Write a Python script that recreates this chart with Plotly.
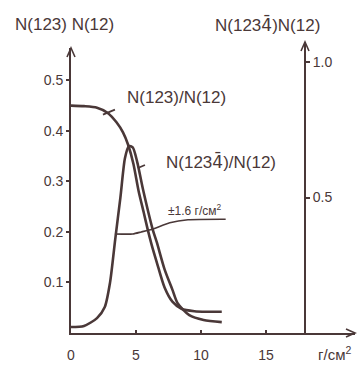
import plotly.graph_objects as go

INK = "#4a3838"
FONT = "Liberation Sans, Arial, sans-serif"

# N(123)/N(12) against thickness, g/cm^2 (left axis)
n123_x = [0, 1.0, 2.0, 2.8, 3.5, 4.0, 4.4, 4.8, 5.2, 5.6, 5.9, 6.2, 6.6, 7.2, 7.8, 8.5, 9.5, 10.5, 11.6]
n123_y = [0.450, 0.449, 0.446, 0.436, 0.417, 0.397, 0.372, 0.335, 0.281, 0.238, 0.205, 0.175,
          0.140, 0.090, 0.062, 0.048, 0.043, 0.042, 0.042]

# N(1234-bar)/N(12) against thickness (right axis)
n1234_x = [0, 1.0, 2.0, 2.6, 3.0, 3.4, 3.8, 4.15, 4.45, 4.75, 5.1, 5.55, 6.3, 6.6, 7.2, 7.8,
           8.2, 9.1, 10.2, 11.6]
n1234_y = [0.022, 0.026, 0.055, 0.096, 0.185, 0.345, 0.50, 0.645, 0.69, 0.685, 0.63, 0.528,
           0.38, 0.335, 0.235, 0.16, 0.11, 0.066, 0.048, 0.04]

# half-width marker (+-1.6 g/cm^2) and its leader to the note
width_x = [3.38, 4.75, 5.4, 6.3, 7.6, 9.0, 11.9]
width_y = [0.196, 0.196, 0.200, 0.206, 0.218, 0.224, 0.225]

# short pointer strokes from the curve labels
ptr123_x = [2.46, 3.38]
ptr123_y = [0.432, 0.442]
ptr1234_x = [5.15, 5.69]
ptr1234_y = [0.609, 0.620]

x_ticks = [0, 5, 10, 15]
left_ticks = [0.1, 0.2, 0.3, 0.4, 0.5]
left_labels = ["0.1", "0.2", "0.3", "0.4", "0.5"]
right_ticks = [0.5, 1.0]
right_labels = ["0.5", "1.0"]

# "4" with a bar above it; DejaVu places the combining macron over the digit
FOUR_BAR = "<span style='font-family:DejaVu Sans'>4\u0304</span>"

W, H = 357, 365
ML, MR, MT, MB = 71, 2, 48, 32
PW, PH = W - ML - MR, H - MT - MB


def px(dx):
    return dx / PW


def py(dy):
    return dy / PH


fig = go.Figure()
line = dict(color=INK, width=2.6, shape="spline", smoothing=0.7)
fig.add_trace(go.Scatter(x=n123_x, y=n123_y, mode="lines", line=line, hoverinfo="skip"))
fig.add_trace(go.Scatter(x=n1234_x, y=n1234_y, mode="lines", line=line, yaxis="y2", hoverinfo="skip"))
fig.add_trace(go.Scatter(x=width_x, y=width_y, mode="lines",
                         line=dict(color=INK, width=1.6, shape="spline", smoothing=0.6), hoverinfo="skip"))
fig.add_trace(go.Scatter(x=ptr123_x, y=ptr123_y, mode="lines", line=dict(color=INK, width=1.8), hoverinfo="skip"))
fig.add_trace(go.Scatter(x=ptr1234_x, y=ptr1234_y, mode="lines", line=dict(color=INK, width=1.8),
                         yaxis="y2", hoverinfo="skip"))

ann = []
txt = dict(color=INK, family=FONT, size=17)
center = dict(showarrow=False, xanchor="center", yanchor="middle")
ann.append(dict(center, text="N(123) N(12)", xref="paper", yref="paper", x=px(64 - ML), y=py(333 - 25),
                font=txt))
ann.append(dict(center, text=f"N(123{FOUR_BAR})N(12)", xref="paper", yref="paper", x=px(267 - ML),
                y=py(333 - 25), font=txt))
ann.append(dict(center, text="N(123)/N(12)", x=8.08, y=0.467, font=txt))
ann.append(dict(center, text=f"N(123{FOUR_BAR})/N(12)", x=11.54, y=0.339, font=txt))
ann.append(dict(center, text="±1.6 г/см<sup>2</sup>", x=9.54, y=0.243,
                font=dict(color=INK, family=FONT, size=12)))
ann.append(dict(center, text="г/см<sup>2</sup>", xref="paper", yref="paper", x=px(334 - ML),
                y=py(333 - 353), font=dict(color=INK, family=FONT, size=15)))


# arrowheads on the ends of the axes, drawn as open chevrons
def chevron(x0, y0, dx1, dy1, dx2, dy2):
    return dict(type="path", xref="paper", yref="paper",
                path=f"M {x0 + px(dx1)} {y0 + py(dy1)} L {x0} {y0} L {x0 + px(dx2)} {y0 + py(dy2)}",
                line=dict(color=INK, width=1.6))


right_pos = px(305 - ML)
shapes = [
    chevron(1.0, 0.0, -9, 4, -9, -4),
    chevron(0.0, 1.0, -4, -9, 4, -9),
    dict(type="line", xref="paper", yref="paper", x0=right_pos, x1=right_pos, y0=1.0, y1=1.0 + py(6),
         line=dict(color=INK, width=2)),
    chevron(right_pos, 1.0 + py(6), -4, -9, 4, -9),
]

fig.update_layout(
    width=W, height=H,
    margin=dict(l=ML, r=MR, t=MT, b=MB),
    paper_bgcolor="white", plot_bgcolor="white",
    showlegend=False,
    annotations=ann,
    shapes=shapes,
    xaxis=dict(range=[0, 21.85], tickvals=x_ticks, ticktext=[str(v) for v in x_ticks],
               showgrid=False, zeroline=False, showline=True, linecolor=INK, linewidth=2,
               ticks="inside", ticklen=3, tickcolor=INK, tickwidth=1.5, ticklabelstandoff=8,
               tickfont=dict(color=INK, family=FONT, size=14), fixedrange=True),
    yaxis=dict(range=[0, 0.564], tickvals=left_ticks, ticktext=left_labels,
               showgrid=False, zeroline=False, showline=True, linecolor=INK, linewidth=2,
               ticks="outside", ticklen=3, tickcolor=INK, tickwidth=1.5,
               tickfont=dict(color=INK, family=FONT, size=14), fixedrange=True),
    yaxis2=dict(range=[0, 1.052], tickvals=right_ticks, ticktext=right_labels,
                overlaying="y", anchor="free", position=right_pos, side="right",
                showgrid=False, zeroline=False, showline=True, linecolor=INK, linewidth=2,
                ticks="outside", ticklen=4, tickcolor=INK, tickwidth=1.5,
                tickfont=dict(color=INK, family=FONT, size=14), fixedrange=True),
)

fig.write_html("out.html")
